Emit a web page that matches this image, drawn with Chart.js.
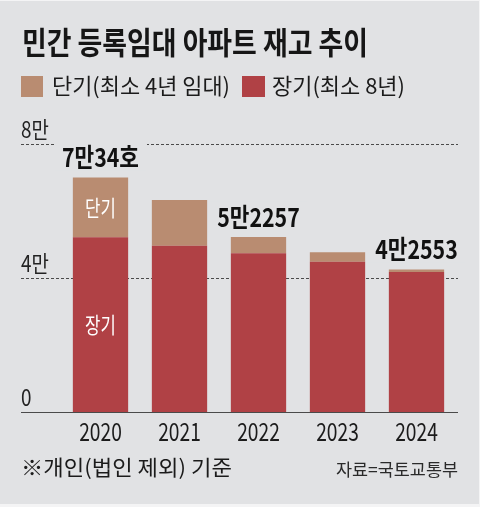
<!DOCTYPE html>
<html>
<head>
<meta charset="utf-8">
<script src="https://cdn.jsdelivr.net/npm/chart.js@4.4.1/dist/chart.umd.min.js"></script>
<style>
  html, body { margin: 0; padding: 0; background: #e1e2e4; }
  canvas { display: block; }
</style>
</head>
<body>
<canvas id="chart" width="480" height="507"></canvas>
<script>
"use strict";

// chart data
var years = ["2020", "2021", "2022", "2023", "2024"];
var longTerm = [52150, 49650, 47370, 44880, 41790];  // 장기(최소 8년)
var shortTerm = [17884, 13650, 4887, 2780, 763];     // 단기(최소 4년 임대)
var totalLabels = ["7만34호", "", "5만2257", "", "4만2553"];
var yTicks = [0, 40000, 80000];
var yTickLabels = ["0", "4만", "8만"];

var FONT = "'Noto Sans CJK KR', 'Noto Sans', sans-serif";
var BG = "#e1e2e4";
var SHORT_COLOR = "#b98c71";
var LONG_COLOR = "#b04145";

/**
 * Draws condensed text: either squeezed to a target width or by a fixed factor.
 */
function drawText(ctx, text, x, y, opts) {
    ctx.save();
    ctx.font = opts.font;
    ctx.fillStyle = opts.color || "#1b1b1b";
    ctx.textBaseline = "middle";
    ctx.textAlign = "left";
    var w = ctx.measureText(text).width;
    var sx = opts.width ? opts.width / w : (opts.sx || 1);
    var drawn = w * sx;
    var left = x;
    if (opts.align === "center") left = x - drawn / 2;
    if (opts.align === "right") left = x - drawn;
    ctx.translate(left, y);
    ctx.scale(sx, 1);
    ctx.fillText(text, 0, 0);
    ctx.restore();
}

var decorations = {
    id: "decorations",
    beforeDraw: function (chart) {
        var ctx = chart.ctx;
        ctx.save();
        ctx.fillStyle = BG;
        ctx.fillRect(0, 0, chart.width, chart.height);
        ctx.fillStyle = "#f4f4f5";
        ctx.fillRect(0, 0, chart.width, 1);
        ctx.fillRect(chart.width - 1, 0, 1, chart.height);
        ctx.fillRect(0, chart.height - 3, chart.width, 3);
        ctx.restore();

        // title + legend
        drawText(ctx, "민간 등록임대 아파트 재고 추이", 22, 42,
            { font: "bold 31px " + FONT, width: 346, color: "#161616" });

        ctx.fillStyle = SHORT_COLOR;
        ctx.fillRect(21, 76, 22, 21);
        drawText(ctx, "단기(최소 4년 임대)", 52, 86, { font: "22px " + FONT, width: 178 });
        ctx.fillStyle = LONG_COLOR;
        ctx.fillRect(242, 76, 23, 21);
        drawText(ctx, "장기(최소 8년)", 272, 86, { font: "22px " + FONT, width: 133 });
    },
    beforeDatasetsDraw: function (chart) {
        var ctx = chart.ctx;
        var y = chart.scales.y;
        ctx.save();
        yTicks.forEach(function (v, i) {
            var py = Math.round(y.getPixelForValue(v)) + 0.5;
            ctx.beginPath();
            ctx.strokeStyle = "#4a4a4a";
            ctx.lineWidth = 1;
            ctx.setLineDash(v === 0 ? [] : [3, 2]);
            ctx.moveTo(21, py);
            ctx.lineTo(458, py);
            ctx.stroke();
            drawText(ctx, yTickLabels[i], 21, py - 15, { font: "23px " + FONT, sx: 0.82, color: "#222" });
        });
        ctx.restore();

        // x labels
        var x = chart.scales.x;
        years.forEach(function (label, i) {
            drawText(ctx, label, x.getPixelForValue(i), 431,
                { font: "25px " + FONT, sx: 0.77, align: "center", color: "#1b1b1b" });
        });

        // footer
        drawText(ctx, "※개인(법인 제외) 기준", 21, 467, { font: "21px " + FONT, width: 211 });
        drawText(ctx, "자료=국토교통부", 458, 470, { font: "17px " + FONT, width: 122, align: "right", color: "#2a2a2a" });
    },
    afterDatasetsDraw: function (chart) {
        var ctx = chart.ctx;
        var longMeta = chart.getDatasetMeta(0);
        var shortMeta = chart.getDatasetMeta(1);

        // segment names inside the first bar
        var sBar = shortMeta.data[0];
        var lBar = longMeta.data[0];
        drawText(ctx, "단기", sBar.x, (sBar.y + sBar.base) / 2,
            { font: "22px " + FONT, sx: 0.76, align: "center", color: "#fff" });
        drawText(ctx, "장기", lBar.x, (lBar.y + lBar.base) / 2,
            { font: "22px " + FONT, sx: 0.76, align: "center", color: "#fff" });

        // totals above the bars
        totalLabels.forEach(function (label, i) {
            if (!label) return;
            var bar = shortMeta.data[i];
            var cy = bar.y - 20;
            ctx.save();
            ctx.font = "bold 26px " + FONT;
            var w = ctx.measureText(label).width * 0.82;
            ctx.fillStyle = BG;
            ctx.fillRect(bar.x - w / 2 - 8, cy - 15, w + 16, 28);
            ctx.restore();
            drawText(ctx, label, bar.x, cy,
                { font: "bold 26px " + FONT, sx: 0.82, align: "center", color: "#111" });
        });
    }
};

new Chart(document.getElementById("chart"), {
    type: "bar",
    data: {
        labels: years,
        datasets: [{
            label: "장기(최소 8년)",
            data: longTerm,
            backgroundColor: LONG_COLOR,
            borderWidth: 0
        }, {
            label: "단기(최소 4년 임대)",
            data: shortTerm,
            backgroundColor: SHORT_COLOR,
            borderWidth: 0
        }]
    },
    options: {
        responsive: false,
        devicePixelRatio: 1,
        animation: false,
        layout: {
            padding: { left: 61, right: 24, top: 144, bottom: 95 }
        },
        datasets: {
            bar: {
                barPercentage: 0.7,
                categoryPercentage: 1
            }
        },
        plugins: {
            legend: { display: false },
            tooltip: { enabled: false }
        },
        scales: {
            x: {
                stacked: true,
                display: false
            },
            y: {
                stacked: true,
                display: false,
                min: 0,
                max: 80000
            }
        }
    },
    plugins: [decorations]
});
</script>
</body>
</html>
